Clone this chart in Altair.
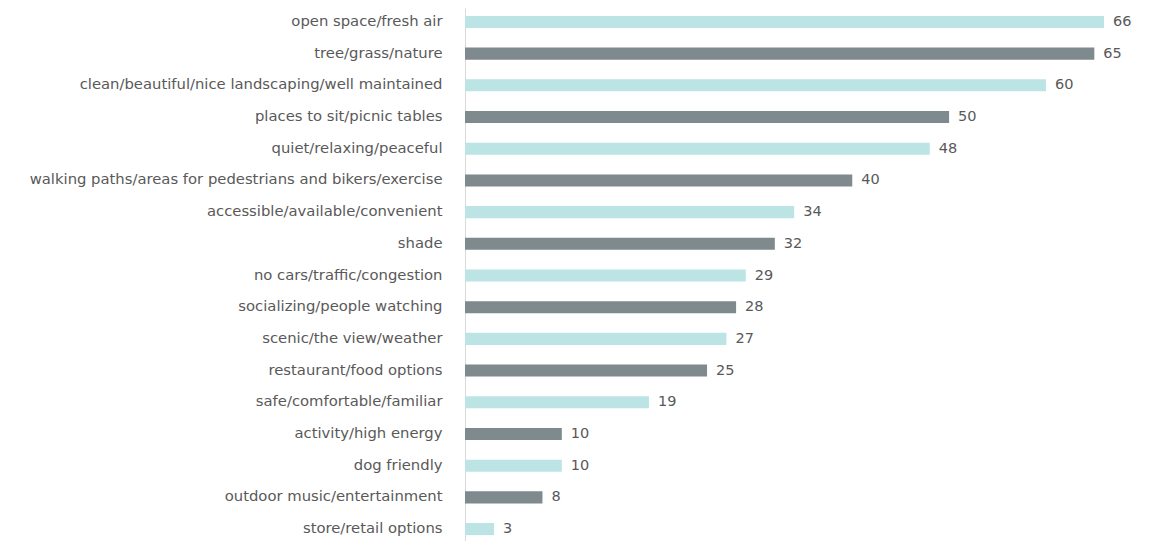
import altair as alt
import pandas as pd

categories = [
    "open space/fresh air",
    "tree/grass/nature",
    "clean/beautiful/nice landscaping/well maintained",
    "places to sit/picnic tables",
    "quiet/relaxing/peaceful",
    "walking paths/areas for pedestrians and bikers/exercise",
    "accessible/available/convenient",
    "shade",
    "no cars/traffic/congestion",
    "socializing/people watching",
    "scenic/the view/weather",
    "restaurant/food options",
    "safe/comfortable/familiar",
    "activity/high energy",
    "dog friendly",
    "outdoor music/entertainment",
    "store/retail options",
]
values = [66, 65, 60, 50, 48, 40, 34, 32, 29, 28, 27, 25, 19, 10, 10, 8, 3]
shade_group = ["light" if i % 2 == 0 else "dark" for i in range(len(categories))]

df = pd.DataFrame({"category": categories, "value": values, "group": shade_group})

FONT = "DejaVu Sans"
TEXT_COLOR = "#595959"

y_enc = alt.Y(
    "category:N",
    sort=categories,
    title=None,
    scale=alt.Scale(paddingInner=0.62, paddingOuter=0.25),
    axis=alt.Axis(
        ticks=False,
        labelPadding=23,
        labelFontSize=14.8,
        labelColor=TEXT_COLOR,
        labelFont=FONT,
        labelLimit=600,
        domainColor="#D9D9D9",
        domainWidth=1,
    ),
)
x_enc = alt.X("value:Q", scale=alt.Scale(domain=[0, 66], nice=False), axis=None)

bars = alt.Chart(df).mark_bar().encode(
    y=y_enc,
    x=x_enc,
    color=alt.Color(
        "group:N",
        scale=alt.Scale(domain=["light", "dark"], range=["#BCE4E5", "#7F8A8E"]),
        legend=None,
    ),
)

labels = alt.Chart(df).mark_text(
    align="left", baseline="middle", dx=9, fontSize=14.5, font=FONT, color=TEXT_COLOR
).encode(y=alt.Y("category:N", sort=categories), x="value:Q", text="value:Q")

chart = (
    alt.layer(bars, labels)
    .properties(
        width=639,
        height=535,
        padding={"left": 457, "top": 0, "right": 40, "bottom": 0},
        autosize=alt.AutoSizeParams(type="none"),
    )
    .configure_view(strokeWidth=0)
)

chart.save("out.html", embed_options={"renderer": "svg", "actions": False})
